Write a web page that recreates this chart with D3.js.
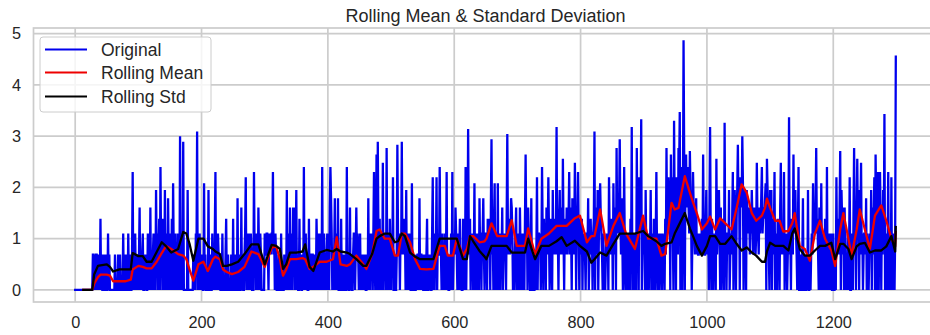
<!DOCTYPE html>
<html><head><meta charset="utf-8">
<script src="https://cdn.jsdelivr.net/npm/d3@7"></script>
<style>html,body{margin:0;padding:0;background:#fff;}svg{display:block;font-family:"Liberation Sans",Arial,sans-serif;}</style>
</head><body><svg id="chart" width="930" height="335"></svg>
<script>
// Original series (one value per index 0..1299)
const original = [
0,0,0,0,0,0,0,0,0,0,
0,0,0,0,0,0,0,0,0,0,
0,0,0,0,0,0,0,0,.69,.69,
0,.69,0,.69,.69,0,.69,0,.69,0,
1.39,0,.69,0,0,.69,0,0,.69,0,
0,0,1.1,0,.69,0,0,0,0,0,
0,0,0,.69,0,0,0,0,.69,0,
0,.69,0,0,0,0,1.1,0,0,0,
.69,0,0,0,1.1,0,0,.69,0,0,
.69,2.3,0,.69,0,1.1,0,.69,0,.69,
0,.69,1.61,0,.69,0,.69,1.1,0,0,
.69,0,.69,0,0,1.1,0,.69,0,1.61,
0,.69,0,.69,1.1,0,.69,0,1.95,.69,
1.1,0,.69,1.39,0,2.4,.69,1.1,0,1.39,
.69,0,1.95,0,1.1,.69,0,1.79,.69,0,
1.1,.69,0,1.39,0,2.08,.69,0,1.1,0,
.69,0,1.1,0,.69,0,3,0,.69,1.1,
0,2.89,0,0,0,0,0,0,1.95,0,
0,0,0,0,0,0,0,.69,0,.69,
0,1.1,.69,3.09,0,.69,0,1.1,0,.69,
0,.69,0,0,2.08,0,.69,0,0,0,
0,1.95,0,0,.69,0,0,1.1,0,.69,
0,1.1,2.3,0,.69,0,1.1,.69,0,.69,
0,0,0,1.1,0,0,0,0,.69,1.39,
0,0,.69,0,0,0,0,.69,0,0,
1.39,0,0,.69,0,0,0,1.79,0,0,
.69,0,0,1.61,0,.69,0,0,.69,1.1,
2.2,0,1.1,.69,0,1.1,.69,0,1.1,.69,
0,0,0,2.3,.69,1.1,0,1.1,.69,0,
1.61,.69,0,1.1,.69,0,0,0,0,0,
1.1,.69,.69,1.1,1.1,.69,0,1.1,.69,1.1,
.69,1.1,1.1,2.3,.69,1.1,0,1.1,.69,0,
0,0,.69,0,0,0,1.1,0,0,0,
0,.69,0,.69,0,1.95,0,1.1,.69,0,
1.61,0,.69,1.1,0,1.61,.69,1.61,0,.69,
1.95,0,.69,0,0,1.39,0,.69,0,0,
.69,0,2.4,0,.69,1.1,0,.69,0,0,
1.39,0,.69,.69,0,.69,.69,0,.69,0,
.69,0,1.39,.69,0,.69,1.1,0,.69,1.1,
0,2.4,0,.69,1.1,0,.69,0,.69,1.1,
0,.69,0,1.61,2.4,1.79,1.1,0,.69,0,
.69,1.79,0,1.1,.69,0,1.79,0,0,0,
0,1.39,0,0,.69,0,0,.69,0,0,
2.4,0,.69,0,0,1.61,0,.69,0,0,
.69,1.1,1.1,0,.69,1.61,.69,1.1,.69,0,
.69,1.1,0,.69,0,.69,0,.69,0,.69,
0,0,.69,0,1.79,0,.69,0,1.1,.69,
1.1,0,1.1,2.3,.69,0,.69,2.64,0,2.89,
1.1,0,1.39,0,1.1,.69,0,2.48,0,1.1,
.69,1.1,0,2.77,0,1.1,.69,0,1.39,.69,
0,1.1,.69,2.2,0,0,.69,0,0,.69,
2.83,1.1,.69,1.1,0,1.1,.69,2.89,.69,1.1,
1.39,.69,1.1,0,1.95,0,1.1,.69,0,1.1,
.69,0,0,2.08,0,0,.69,0,0,0,
.69,0,.69,.69,0,1.79,0,.69,.69,0,
.69,0,0,.69,0,0,.69,1.39,0,0,
.69,0,.69,0,0,1.1,2.2,0,.69,0,
1.1,.69,2.2,0,1.1,.69,.69,2.4,1.1,.69,
0,1.1,0,.69,0,1.1,0,.69,2.3,0,
.69,0,0,.69,0,1.1,0,2.3,0,.69,
1.1,.69,1.61,1.1,.69,0,1.1,0,.69,1.39,
0,.69,0,0,1.39,0,.69,0,2.4,0,
1.1,.69,3.14,1.1,.69,1.39,0,1.1,.69,1.1,
0,.69,2.08,0,1.1,.69,0,1.1,.69,0,
1.79,.69,1.1,0,1.1,1.1,1.79,.69,0,1.1,
1.1,.69,0,1.39,.69,1.1,1.39,0,1.61,2.94,
.69,1.1,0,1.39,2.08,0,1.1,.69,0,2.08,
0,1.1,.69,0,1.1,.69,1.61,0,1.1,.69,
1.1,.69,0,1.39,3.04,1.1,.69,1.39,.69,1.1,
1.79,1.61,1.1,0,.69,0,.69,1.1,1.61,0,
.69,0,1.1,0,1.61,.69,0,1.1,.69,0,
1.1,0,1.39,2.64,1.1,1.39,0,1.61,1.1,.69,
0,0,1.79,0,0,.69,0,0,.69,0,
.69,2.2,0,1.1,1.1,.69,1.1,0,.69,2.4,
1.1,0,1.39,.69,1.1,0,1.61,.69,1.1,2.2,
1.1,0,.69,1.39,1.1,0,1.95,.69,1.1,1.39,
.69,1.1,3.18,.69,1.1,0,1.39,1.95,.69,1.1,
1.61,.69,2.56,1.1,0,1.39,1.1,.69,1.61,.69,
1.1,1.39,2.3,.69,1.61,1.1,0,1.79,1.39,.69,
1.1,2.48,1.39,0,1.61,1.1,2.3,1.1,0,1.39,
1.1,.69,1.39,0,1.1,.69,1.1,.69,0,1.1,
1.1,.69,1.79,0,.69,1.1,1.39,.69,1.1,0,
1.1,1.39,3.09,0,1.61,1.1,.69,1.95,0,1.1,
1.61,2.08,1.39,1.1,.69,0,1.1,0,.69,0,
.69,1.1,.69,1.1,0,2.2,1.1,.69,1.39,.69,
1.39,0,2.08,.69,1.1,1.61,0,2.77,1.1,1.39,
1.1,1.61,2.94,1.39,.69,1.79,1.1,0,.69,2.4,
.69,0,1.1,0,.69,1.1,0,.69,0,1.39,
.69,3.18,0,.69,0,1.1,0,.69,0,2.77,
1.1,1.61,0,2.2,1.1,1.39,3.33,0,1.1,1.39,
.69,1.1,0,1.95,.69,0,1.1,.69,0,1.1,
.69,1.95,0,1.1,.69,0,1.39,.69,0,1.1,
2.3,.69,0,.69,1.1,0,.69,1.1,.69,0,
1.1,.69,.69,0,1.39,.69,2.77,1.1,1.61,2.2,
1.61,1.95,0,2.64,1.39,2.2,1.1,0,3.3,1.39,
1.61,0,2.2,1.39,.69,2.77,2.3,3.47,0,1.95,
2.4,0,1.61,4.87,2.64,0,2.2,2.64,1.61,2.08,
2.4,1.61,1.1,2.71,1.95,1.39,0,1.1,2.3,1.61,
1.1,.69,1.39,1.79,.69,1.1,.69,.69,1.1,.69,
1.1,.69,1.39,.69,2.64,1.1,.69,.69,1.1,1.95,
.69,1.1,1.39,0,1.61,3.18,1.1,0,1.39,.69,
0,1.1,.69,1.1,0,2.56,.69,1.1,1.39,1.95,
1.1,0,1.61,0,1.1,1.39,.69,0,3.26,.69,
1.1,0,1.1,1.1,.69,1.95,0,.69,1.1,.69,
1.39,2.3,0,1.61,1.95,1.1,0,1.39,1.95,2.83,
1.61,2.08,0,2.2,1.95,1.61,3,2.08,0,1.61,
1.95,1.39,0,1.95,1.61,1.39,1.1,1.61,.69,1.39,
1.1,1.95,1.39,.69,1.1,1.61,1.39,.69,1.1,2.48,
1.39,1.1,.69,1.61,1.1,1.39,1.79,2.4,1.1,1.39,
1.61,1.39,1.79,2.08,0,2.56,1.95,1.39,.69,0,
1.95,1.1,1.95,0,1.39,.69,1.1,2.3,0,.69,
1.1,0,1.39,.69,1.1,0,1.61,2.48,.69,1.1,
1.1,.69,2.3,0,1.1,.69,1.1,0,.69,1.1,
3.37,.69,1.1,0,1.39,1.1,.69,2.64,1.1,1.61,
1.95,1.1,.69,0,1.1,2.4,0,0,.69,0,
0,.69,1.79,0,0,.69,0,0,.69,0,
1.95,0,0,.69,0,.69,1.1,.69,2.08,1.1,
1.39,1.1,1.61,2.77,1.1,1.39,.69,0,1.61,1.1,
0,2.08,.69,0,1.1,.69,0,1.39,.69,0,
2.4,0,.69,0,1.1,.69,0,1.1,0,0,
1.1,0,0,.69,0,2.2,.69,1.1,1.39,.69,
1.61,2.71,0,1.95,1.39,.69,1.61,0,1.61,.69,
0,.69,0,1.1,0,.69,2.2,0,0,.69,
1.1,0,1.39,2.77,1.1,1.61,0,1.39,2.56,1.1,
1.61,0,1.95,1.39,2.48,.69,1.1,0,.69,1.1,
1.1,.69,1.79,0,1.1,.69,0,.69,1.1,.69,
1.95,0,1.61,.69,1.39,2.2,0,2.64,1.61,0,
1.61,2.3,0,1.95,2.3,1.39,0,1.61,.69,1.95,
1.1,3.43,0,.69,1.1,0,.69,2.3,0,1.1,
.69,0,2.2,0,.69,0,1.1,0,1.1,4.55
];

// Rolling statistics (window 12) at these indices
const rollIdx = [
11,27,30,36,40,50,55,60,70,80,
88,91,100,107,113,121,129,137,144,152,
163,171,176,181,187,195,203,210,218,222,
229,234,240,248,258,268,279,290,300,311,
318,324,329,334,340,350,360,364,371,377,
387,398,408,414,420,430,435,445,456,461,
470,477,482,490,498,506,511,517,522,530,
538,546,556,567,577,585,590,598,604,614,
620,625,630,640,648,651,659,668,683,691,
699,712,717,728,738,750,762,770,778,791,
799,810,817,822,831,841,852,862,872,886,
899,907,920,928,934,944,949,955,965,973,
978,984,992,1000,1005,1013,1021,1029,1039,1047,
1055,1063,1071,1078,1087,1092,1095,1100,1108,1115,
1121,1129,1135,1139,1147,1155,1163,1171,1179,1187,
1197,1203,1211,1216,1224,1229,1237,1242,1250,1258,
1266,1276,1284,1292,1298,1299
];
const rollMean = [
0,0,.12,.25,.3,.3,.28,.17,.17,.17,
.2,.4,.47,.45,.42,.42,.55,.72,.86,.8,
.7,.67,.6,.4,.18,.5,.55,.37,.6,.65,
.6,.4,.35,.31,.35,.45,.75,.7,.45,.82,
.86,.6,.28,.4,.6,.6,.62,.6,.41,.45,
.55,.55,.6,1.03,.5,.47,.5,.67,.5,.41,
.7,1.15,1.18,1.0,1.0,.67,.67,1.1,1.1,.93,
.6,.41,.4,.41,.86,.86,.67,.67,1.0,.67,
.8,1.05,1.05,.93,.95,1.0,1.3,1.05,1.05,1.36,
.86,.86,1.2,.7,1.0,1.1,1.25,1.25,1.25,1.4,
1.45,.93,1.05,1.05,1.57,.86,1.25,1.5,1.1,.8,
1.45,1.0,1.0,.67,.7,1.7,1.57,1.6,2.22,1.9,
1.71,1.5,1.18,1.3,1.43,1.18,1.4,1.3,1.18,1.6,
2.06,1.9,1.5,1.35,1.45,1.6,1.78,1.6,1.35,1.35,
1.14,1.15,1.3,1.5,.86,.8,.57,1.1,1.35,1.0,
.77,.47,1.18,1.5,1.0,.67,1.18,1.57,1.18,.8,
1.45,1.65,1.35,1.0,.85,1.15
];
const rollStd = [
0,0,.3,.47,.48,.5,.45,.36,.4,.4,
.4,.72,.66,.66,.55,.55,.74,.93,.85,.73,
.8,1.13,1.1,.9,.57,1.0,1.0,.85,.8,.75,
.7,.47,.47,.5,.55,.7,.89,.89,.5,.88,
.86,.8,.41,.5,.73,.73,.75,.89,.45,.37,
.73,.78,.75,.8,.75,.73,.7,.6,.47,.47,
.7,1.0,1.05,1.1,1.1,.93,.95,1.1,1.05,.73,
.65,.6,.6,.6,1.0,1.0,1.0,1.0,1.0,.6,
.6,1.05,.95,.76,.65,.6,.86,.86,.86,.73,
.73,.73,1.0,.6,.86,.86,.95,1.03,.86,.96,
.86,.75,.53,.6,.73,.67,.9,1.1,1.1,1.1,
1.15,1.05,.95,.86,.9,.93,1.1,1.25,1.5,1.2,
1.05,.86,.67,.86,1.05,1.05,.9,.9,1.05,.9,
.77,.83,.73,.67,.55,.55,.75,.92,.86,.86,
.86,.77,1.1,1.2,.8,.67,.67,.77,.86,.86,
.92,.6,.9,.9,.8,.6,.85,.9,.92,.73,
.77,.77,.85,1.05,.75,1.25
];

const xTicks = [0,200,400,600,800,1000,1200];
const yTicks = [0,1,2,3,4,5];
const titleText = "Rolling Mean & Standard Deviation";
const legendLabels = ["Original","Rolling Mean","Rolling Std"];
const seriesColors = ["#0000ee","#ee0000","#000000"];

const svg = d3.select("#chart");
const plot = {left:33.5, right:937.5, top:28, bottom:302};
const x = d3.scaleLinear().domain([-66,1365]).range([plot.left, plot.right]);
const y = d3.scaleLinear().domain([-0.235,5.11]).range([plot.bottom, plot.top]);
const gridColor = "#cccccc", textColor = "#262626";

svg.append("defs").append("clipPath").attr("id","clip")
  .append("rect").attr("x",plot.left).attr("y",plot.top)
  .attr("width",plot.right-plot.left).attr("height",plot.bottom-plot.top);

// grid
const grid = svg.append("g");
grid.selectAll("line.vx").data(xTicks).join("line")
  .attr("x1",d=>x(d)).attr("x2",d=>x(d)).attr("y1",plot.top).attr("y2",plot.bottom)
  .attr("stroke",gridColor).attr("stroke-width",1.7);
grid.selectAll("line.hy").data(yTicks).join("line")
  .attr("class","hy")
  .attr("x1",plot.left).attr("x2",plot.right).attr("y1",d=>y(d)).attr("y2",d=>y(d))
  .attr("stroke",gridColor).attr("stroke-width",1.7);
// spines
svg.append("rect").attr("x",plot.left).attr("y",plot.top)
  .attr("width",plot.right-plot.left).attr("height",plot.bottom-plot.top)
  .attr("fill","none").attr("stroke",gridColor).attr("stroke-width",1.7);

// axes (labels only, no tick marks)
const xAxis = d3.axisBottom(x).tickValues(xTicks).tickSize(0).tickPadding(0).tickFormat(d3.format("d"));
const gx = svg.append("g").attr("transform",`translate(0,${plot.bottom})`).call(xAxis);
gx.select(".domain").remove();
gx.selectAll("text").attr("dy",null).attr("y",26).attr("fill",textColor)
  .style("font-size","16.3px").style("font-family","'Liberation Sans',Arial,sans-serif");
const yAxis = d3.axisLeft(y).tickValues(yTicks).tickSize(0).tickPadding(12.5).tickFormat(d3.format("d"));
const gy = svg.append("g").attr("transform",`translate(${plot.left},0)`).call(yAxis);
gy.select(".domain").remove();
gy.selectAll("text").attr("fill",textColor)
  .style("font-size","16.3px").style("font-family","'Liberation Sans',Arial,sans-serif");

// series
const lines = svg.append("g").attr("clip-path","url(#clip)");
const lineOrig = d3.line().x((d,i)=>x(i)).y(d=>y(d));
lines.append("path").datum(original).attr("d",lineOrig)
  .attr("fill","none").attr("stroke",seriesColors[0]).attr("stroke-width",2.3)
  .attr("stroke-linejoin","miter").attr("stroke-miterlimit",2).attr("stroke-linecap","square");
const lineRoll = d3.line().x(d=>x(d[0])).y(d=>y(d[1]));
const meanPts = rollIdx.map((k,i)=>[k,rollMean[i]]);
const stdPts = rollIdx.map((k,i)=>[k,rollStd[i]]);
lines.append("path").datum(meanPts).attr("d",lineRoll)
  .attr("fill","none").attr("stroke",seriesColors[1]).attr("stroke-width",2.3).attr("stroke-linejoin","round");
lines.append("path").datum(stdPts).attr("d",lineRoll)
  .attr("fill","none").attr("stroke",seriesColors[2]).attr("stroke-width",2.3).attr("stroke-linejoin","round");

// title
svg.append("text").attr("x",(plot.left+plot.right)/2).attr("y",22)
  .attr("text-anchor","middle").attr("fill",textColor)
  .style("font-size","18px").text(titleText);

// legend
const lg = svg.append("g");
lg.append("rect").attr("x",40).attr("y",37).attr("width",171).attr("height",75).attr("rx",3)
  .attr("fill","#ffffff").attr("fill-opacity",0.8).attr("stroke",gridColor).attr("stroke-width",1);
const lgY = [49.5,72.5,96.5];
legendLabels.forEach((lab,i)=>{
  lg.append("line").attr("x1",45).attr("x2",87).attr("y1",lgY[i]).attr("y2",lgY[i])
    .attr("stroke",seriesColors[i]).attr("stroke-width",2.2);
  lg.append("text").attr("x",101).attr("y",lgY[i]+6.5).attr("fill",textColor)
    .style("font-size","17.5px").text(lab);
});
</script></body></html>
